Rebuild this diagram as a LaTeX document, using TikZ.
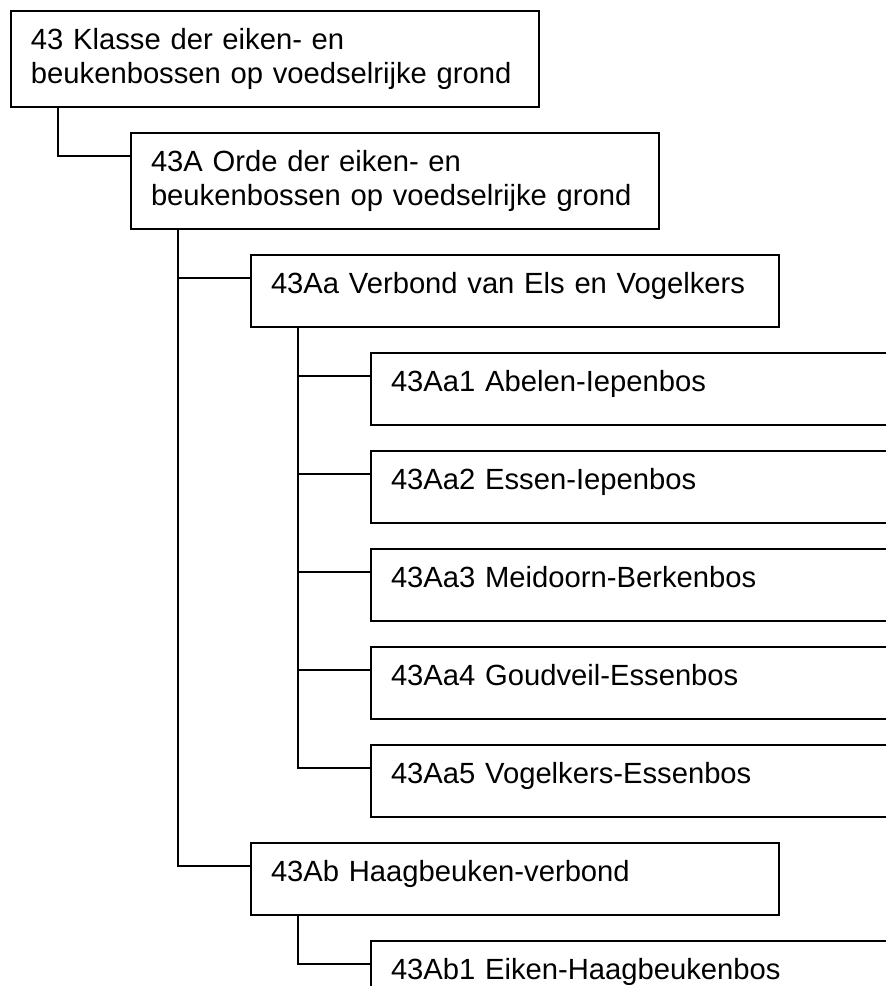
\documentclass[tikz,border=0pt]{standalone}
\usepackage{fontspec}
\setmainfont{Liberation Sans}
\usepackage{tikz}
\usetikzlibrary{positioning}

\begin{document}
\begin{tikzpicture}[
            every node/.style={font=\fontsize{14.6}{17}\selectfont},
            box/.style={rectangle, draw, line width=1pt, inner xsep=10pt, inner ysep=0pt,
                        text width=244pt, align=left, text height=19pt, text depth=17pt},
            boxtwo/.style={box, text depth=29pt},
            child/.style={anchor=north west, xshift=60pt, yshift=-12pt},
            link/.style={line width=1pt}
        ]
            \useasboundingbox (0,0) rectangle (443pt,-493pt);
            \clip (0,0) rectangle (443pt,-493pt);

            \node[boxtwo, anchor=north west] (klasse) at (5pt,-5pt) {43 Klasse der eiken- en\\beukenbossen op voedselrijke grond};
            \node[boxtwo, child] (orde) at (klasse.south west) {43A Orde der eiken- en\\beukenbossen op voedselrijke grond};
            \node[box, child] (aa) at (orde.south west) {43Aa Verbond van Els en Vogelkers};

            \node[box, child] (aa1) at (aa.south west) {43Aa1 Abelen-Iepenbos};
            \node[box, below=12pt of aa1] (aa2) {43Aa2 Essen-Iepenbos};
            \node[box, below=12pt of aa2] (aa3) {43Aa3 Meidoorn-Berkenbos};
            \node[box, below=12pt of aa3] (aa4) {43Aa4 Goudveil-Essenbos};
            \node[box, below=12pt of aa4] (aa5) {43Aa5 Vogelkers-Essenbos};

            \node[box, anchor=north west] (ab) at ([yshift=-12pt]aa5.south -| aa.west) {43Ab Haagbeuken-verbond};
            \node[box, child] (ab1) at (ab.south west) {43Ab1 Eiken-Haagbeukenbos};

            \draw[link] ([xshift=24pt]klasse.south west) |- ([yshift=-12pt]orde.north west);
            \draw[link] ([xshift=24pt]orde.south west) |- ([yshift=-12pt]aa.north west);
            \draw[link] ([xshift=24pt]orde.south west) |- ([yshift=-12pt]ab.north west);
            \foreach \i in {1,...,5}
                \draw[link] ([xshift=24pt]aa.south west) |- ([yshift=-12pt]aa\i.north west);
            \draw[link] ([xshift=24pt]ab.south west) |- ([yshift=-12pt]ab1.north west);
        \end{tikzpicture}
\end{document}
